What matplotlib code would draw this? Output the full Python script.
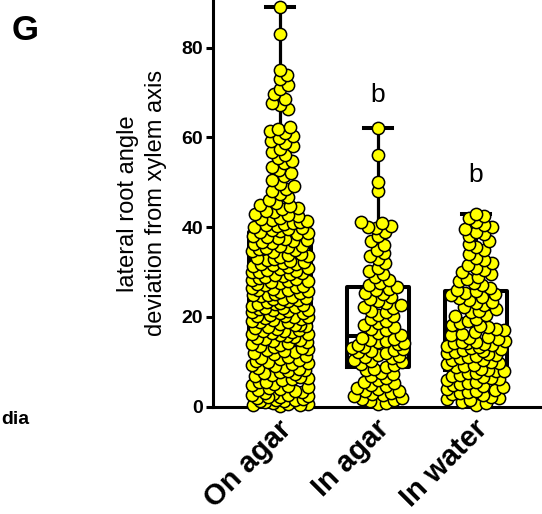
import numpy as np
import matplotlib
matplotlib.use("Agg")
import matplotlib.pyplot as plt
from matplotlib.transforms import ScaledTranslation

plt.rcParams['font.family'] = ['Liberation Sans', 'DejaVu Sans']

categories = ["On agar", "In agar", "In water"]

on_agar = [0.2, 0.4, 0.5, 0.7, 0.9, 0.3, 1.1, 1.3, 1.5, 1.6, 1.8, 1.2, 1.9,
           2.1, 2.3, 2.5, 2.6, 2.8, 2.2, 3.0, 3.3, 3.5, 3.7, 3.9, 4.1, 4.4, 4.6, 4.8,
           5.1, 5.4, 5.6, 5.9, 6.2, 6.4, 6.7, 6.9, 7.1, 7.3, 7.5, 7.7, 7.9,
           8.1, 8.4, 8.6, 8.8, 9.0, 9.2, 9.5, 9.7, 9.9,
           10.1, 10.4, 10.6, 10.9, 11.1, 11.4, 11.7, 11.9, 12.2, 12.4, 12.6, 12.9,
           13.1, 13.3, 13.6, 13.8, 14.0, 14.3, 14.5, 14.7, 14.9,
           15.1, 15.3, 15.5, 15.8, 15.9, 16.1, 16.3, 16.5, 16.6, 16.8, 16.9,
           17.0, 17.4, 17.6, 17.8, 17.9, 18.1, 18.3, 18.4, 18.8, 18.9,
           19.1, 19.3, 19.5, 19.7, 19.9,
           20.0, 20.2, 20.3, 20.5, 20.8, 20.9, 21.1, 21.3, 21.5, 21.6, 21.8,
           21.9, 22.0, 22.2, 22.5, 22.6, 22.8, 22.9, 23.1, 23.3, 23.5,
           23.8, 23.9, 24.1, 24.3, 24.4, 24.6, 24.8, 24.9,
           25.1, 25.3, 25.5, 25.7, 25.9, 26.1, 26.3, 26.5, 26.7, 26.9, 27.1, 27.3,
           27.5, 27.7, 27.9, 28.1, 28.3, 28.5, 28.7, 28.9, 29.1, 29.3, 29.5, 29.7, 29.9,
           30.1, 30.3, 30.5, 30.7, 30.9, 31.1, 31.3, 31.5, 31.7, 31.9, 32.1, 32.3,
           32.5, 32.7, 32.9, 33.2, 33.4, 33.6, 33.8, 34.1, 34.4, 34.6, 34.9,
           35.1, 35.3, 35.5, 35.7, 35.9, 36.2, 36.5, 36.7, 36.9, 37.1, 37.4, 37.6,
           37.9, 38.1, 38.4, 38.6, 38.9, 39.1, 39.3, 39.5, 39.8,
           40.1, 40.3, 40.5, 40.7, 40.9, 41.1, 41.3, 41.5, 41.8, 42.1, 42.4, 42.8,
           43.0, 43.3, 43.7, 44.1, 44.3, 44.6, 44.9,
           45.4, 46.1, 46.8, 47.4, 48.0, 48.6, 49.2, 49.7,
           50.5, 51.3, 52.1, 52.8, 53.5, 54.2, 54.8,
           55.3, 56.1, 56.7, 57.4, 58.0, 58.7, 59.3, 59.8,
           60.4, 61.0, 61.4, 61.9, 62.3,
           66.3, 67.1, 67.6, 68.5, 69.7, 70.8, 71.6, 72.9, 73.8, 74.9,
           83.0, 89.0]

in_agar = [0.6, 0.9, 1.2, 1.4, 1.7, 2.0, 2.3, 2.5, 2.8, 3.1, 3.4, 3.6, 3.9, 4.2,
           4.5, 4.8, 5.2, 5.6, 5.9, 6.3, 6.8, 7.2, 7.6, 8.1, 8.5,
           8.9, 9.2, 9.6, 9.9, 10.2, 10.5, 10.8, 11.0, 11.3, 11.6, 11.9, 12.1, 12.4,
           12.7, 12.9, 13.1, 13.4, 13.7, 13.9, 14.1, 14.4, 14.6, 14.8, 15.0, 15.3,
           16.0, 16.5, 17.0, 17.3, 17.8, 18.2, 18.7, 19.2, 19.6, 20.1, 20.5, 21.0,
           21.4, 21.9, 22.2, 22.6, 23.0, 23.5, 24.0, 24.4, 25.0, 25.4, 25.9, 26.2, 26.6,
           27.0, 27.5, 28.3, 29.0, 29.5, 30.2, 31.0, 32.0, 33.0, 33.5, 34.2, 35.0,
           36.0, 37.0, 38.0, 39.0, 39.7, 40.1, 40.3, 40.9, 41.2, 48.1, 50.1, 56.0, 62.0]

in_water = [0.3, 0.8, 1.1, 1.4, 1.7, 2.0, 2.2, 2.5, 2.8, 3.0, 3.2, 3.5, 3.8, 4.0,
            4.3, 4.5, 4.8, 5.0, 5.3, 5.6, 5.9, 6.1, 6.4, 6.7, 6.9, 7.1, 7.4, 7.6, 7.9, 8.0,
            8.2, 8.5, 8.8, 9.0, 9.3, 9.5, 9.8, 10.0, 10.3, 10.5, 10.8, 11.0, 11.3,
            11.5, 11.8, 12.0, 12.2, 12.4, 12.7, 12.9, 13.1, 13.3, 13.6, 13.8, 14.0,
            14.1, 14.3, 14.4, 14.5, 14.6,
            15.0, 15.3, 15.6, 16.0, 16.3, 16.7, 17.0, 17.3, 17.7, 18.0, 18.3, 18.7,
            19.2, 19.6, 20.1, 20.5, 21.0, 21.4, 21.8, 22.3, 22.7, 23.1, 23.4, 23.8,
            24.2, 24.5, 24.8, 25.1, 25.4, 25.7,
            26.0, 26.5, 27.0, 27.5, 28.0, 28.5, 29.0, 29.5, 30.0, 30.5, 31.0, 31.5,
            32.0, 32.6, 33.2, 34.0, 35.0, 35.5, 36.2, 37.0, 38.0, 38.5, 39.0, 39.5,
            40.0, 40.5, 41.2, 42.0, 42.4, 43.0]

groups = [on_agar, in_agar, in_water]
sig_labels = ["", "b", "b"]
sig_y = [None, 69.5, 51.6]
yticks = [0, 20, 40, 60, 80]

W, H = 542, 514
fig = plt.figure(figsize=(W / 100, H / 100), dpi=100)
ax_left, ax_bottom_px, ax_right = 213, 406.7, 542
ax = fig.add_axes([ax_left / W, (H - ax_bottom_px) / H,
                   (ax_right - ax_left) / W, ax_bottom_px / H])
xmin, xmax = -0.684, 2.673
ymax = 90.6
ax.set_xlim(xmin, xmax)
ax.set_ylim(0, ymax)

sx = (ax_right - ax_left) / (xmax - xmin)  # px per x unit
sy = ax_bottom_px / ymax                   # px per y unit


def swarm_offsets(vals, limit, min_d=8.0, step=0.5, mult=89, band=4.0):
    vals = np.asarray(vals, dtype=float)
    n = len(vals)
    perm = [(i * mult) % n for i in range(n)]
    rank = np.empty(n)
    rank[perm] = np.arange(n)
    order = sorted(range(n), key=lambda i: (np.floor(vals[i] / band), rank[i]))
    cands = [0.0]
    k = 1
    while k * step <= limit:
        cands += [k * step, -k * step]
        k += 1
    cands = np.array(cands)
    px_list, py_list = [], []
    offs = np.zeros(n)
    for i in order:
        ypx = vals[i] * sy
        if px_list:
            P = np.array(px_list)
            Q = np.array(py_list)
            m = np.abs(Q - ypx) < min_d
            P, Q = P[m], Q[m]
        else:
            P = Q = np.array([])
        if len(P) == 0:
            best = 0.0
        else:
            d2 = (cands[:, None] - P[None, :]) ** 2 + (ypx - Q[None, :]) ** 2
            mind = d2.min(axis=1)
            okc = np.where(mind >= min_d ** 2)[0]
            if len(okc):
                best = cands[okc[0]]
            else:
                best = cands[np.argmax(mind)]
        offs[i] = best
        px_list.append(best)
        py_list.append(ypx)
    return offs / sx


limits = [28, 26, 29]
positions = np.arange(len(groups))
ax.boxplot(groups, positions=positions, widths=0.64, whis=(0, 100),
           showfliers=False, capwidths=0.29,
           boxprops=dict(color="black", linewidth=2.9),
           whiskerprops=dict(color="black", linewidth=2.3),
           capprops=dict(color="black", linewidth=2.9),
           medianprops=dict(color="black", linewidth=2.9),
           zorder=2)

for p, g, lim in zip(positions, groups, limits):
    xo = swarm_offsets(g, lim)
    ax.scatter(p + xo, g, s=78, facecolor="#FFFF00", edgecolor="black",
               linewidth=1.1, zorder=3, clip_on=False)

for p, lab, yv in zip(positions, sig_labels, sig_y):
    if lab:
        ax.text(p, yv, lab, ha="center", va="center", fontsize=19)

ax.spines["top"].set_visible(False)
ax.spines["right"].set_visible(False)
ax.spines["left"].set_linewidth(2.2)
ax.spines["bottom"].set_linewidth(2.2)
ax.set_yticks(yticks)
ax.set_yticklabels([str(t) for t in yticks], fontsize=14, fontweight="bold")
ax.tick_params(axis="y", length=5, width=2.2, pad=2)
ax.set_xticks(positions)
ax.set_xticklabels(categories, fontsize=21, fontweight="bold", rotation=45,
                   ha="right", va="center", rotation_mode="anchor")
ax.tick_params(axis="x", length=0, pad=13)
shift = ScaledTranslation(7 / 100, 0, fig.dpi_scale_trans)
for lab in ax.get_xticklabels():
    lab.set_transform(lab.get_transform() + shift)

ax.set_ylabel("lateral root angle\ndeviation from xylem axis", fontsize=17,
              linespacing=1.35)
ax.yaxis.set_label_coords(-0.14, 0.5)

fig.text(12 / W, 1 - 31 / H, "G", fontsize=25, fontweight="bold",
         ha="left", va="center")
fig.text(1 / W, 1 - 420 / H, "dia", fontsize=14, fontweight="bold",
         ha="left", va="center")

fig.savefig("out.png", dpi=100)
